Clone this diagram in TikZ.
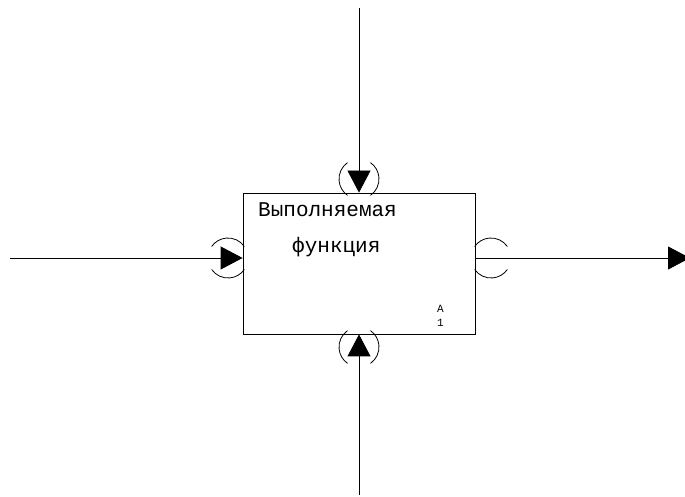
\documentclass[tikz,border=0pt]{standalone}
\usepackage{fontspec}
\setmonofont{Liberation Mono}
\usepackage{tikz}
\usetikzlibrary{arrows.meta,calc}

\begin{document}
\begin{tikzpicture}[
    x=1pt, y=1pt,
    func/.style={rectangle, draw, line width=0.8pt, minimum width=232pt, minimum height=141pt, inner sep=0pt},
    label/.style={anchor=base west, inner sep=0pt, font=\ttfamily\fontsize{21}{21}\selectfont},
    small/.style={anchor=base west, inner sep=0pt, font=\ttfamily\fontsize{11}{11}\selectfont},
    arrow/.style={-{Triangle[length=22pt, width=23pt]}, line width=0.8pt},
    tunnel/.style={line width=0.8pt}
]
    \useasboundingbox (0,0) rectangle (685,497);

    % Function box
    \node[func] (func) at (359,233.5) {};
    \node[label] (name1) at (258,280) {Выполняемая};
    \node[label] (name2) at (292,244) {функция};
    \node[small] (numA) at (437,184) {A};
    \node[small] (num1) at (437,170) {1};

    % Free ends of the arrows
    \coordinate (input) at (10,239);
    \coordinate (output) at (690,239);
    \coordinate (control) at (359,489);
    \coordinate (mechanism) at (359,2);

    % Arrows
    \draw[arrow] (input) -- (input -| func.west);
    \draw[arrow] (output -| func.east) -- (output);
    \draw[arrow] (control) -- (control |- func.north);
    \draw[arrow] (mechanism) -- (mechanism |- func.south);

    % Tunnels
    \coordinate (tin) at (228,239);
    \coordinate (tout) at (491,239);
    \coordinate (tctrl) at (359,318);
    \coordinate (tmech) at (359,150);
    \foreach \t in {tin,tout} {
        \draw[tunnel] ([shift={(35:20)}]\t) arc[start angle=35, end angle=145, radius=20];
        \draw[tunnel] ([shift={(215:20)}]\t) arc[start angle=215, end angle=325, radius=20];
    }
    \foreach \t in {tctrl,tmech} {
        \draw[tunnel] ([shift={(125:20)}]\t) arc[start angle=125, end angle=235, radius=20];
        \draw[tunnel] ([shift={(-55:20)}]\t) arc[start angle=-55, end angle=55, radius=20];
    }
\end{tikzpicture}
\end{document}
